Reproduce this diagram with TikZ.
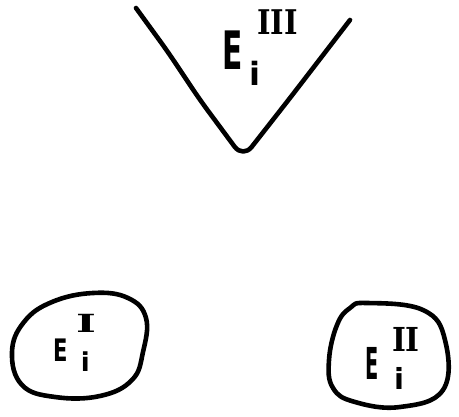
\documentclass[tikz,border=0pt]{standalone}
\usepackage{fontspec}
\newfontfamily\hwsans{DejaVu Sans}
\newfontfamily\hwserif{DejaVu Serif}
\begin{document}
\begin{tikzpicture}[x=1pt,y=-1pt,
  ink/.style={line width=4.6pt,line cap=round,line join=round},
  glyph/.style={anchor=base west,inner sep=0pt,outer sep=0pt}]
\useasboundingbox (0,0) rectangle (459,417);
% V shape
\draw[ink,rounded corners=14pt] (136,8) -- (168,52) -- (200,100) -- (243,158) -- (290,98) -- (350,20);
% left blob
\draw[ink] plot[smooth cycle,tension=0.7] coordinates {(93,293) (128,298) (146,318) (143,352) (132,380) (100,396) (55,397) (22,385) (12,352) (24,322) (52,302)};
% right blob
\draw[ink] plot[smooth cycle,tension=0.7] coordinates {(367,303) (423,310) (445,340) (443,390) (400,407) (355,402) (333,388) (329,360) (337,325) (350,308)};
% label E_i^III
\node[glyph,font=\fontsize{53}{56}\hwsans\bfseries] (e3E) at (222,70) {\scalebox{0.56}[1]{E}};
\node[glyph,font=\fontsize{32}{36}\hwsans\bfseries] (e3i) at (249,86) {i};
\node[glyph,font=\fontsize{34}{38}\hwserif\bfseries] (e3s) at (257,35) {\scalebox{0.85}[1]{III}};
% label E_i^I
\node[glyph,font=\fontsize{31}{34}\hwsans\bfseries] (e1E) at (53,362) {\scalebox{0.68}[1]{E}};
\node[glyph,font=\fontsize{26}{30}\hwsans\bfseries] (e1i) at (81,372) {i};
\node[glyph,font=\fontsize{25}{30}\hwserif\bfseries] (e1s) at (76,333) {\scalebox{1.7}[1]{I}};
% label E_i^II
\node[glyph,font=\fontsize{44}{48}\hwsans\bfseries] (e2E) at (365,380) {\scalebox{0.44}[1]{E}};
\node[glyph,font=\fontsize{29}{32}\hwsans\bfseries] (e2i) at (394,390) {i};
\node[glyph,font=\fontsize{33}{36}\hwserif\bfseries] (e2s) at (392,352) {\scalebox{0.9}[1]{II}};
\end{tikzpicture}
\end{document}
